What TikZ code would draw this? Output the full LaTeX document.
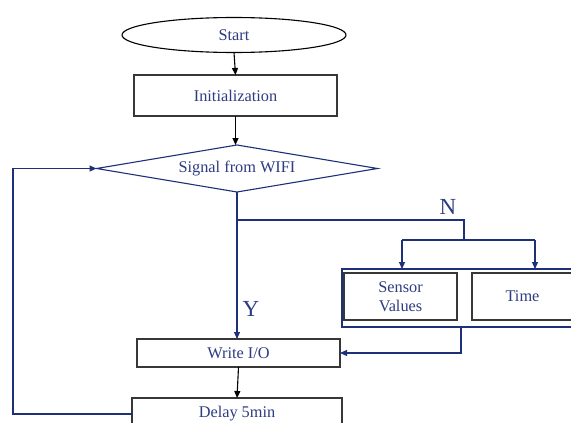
\documentclass[tikz,border=0pt]{standalone}
\usepackage{fontspec}
\setmainfont{Liberation Serif}
\usetikzlibrary{shapes.geometric,arrows.meta}
\definecolor{txtblue}{RGB}{46,60,128}
\definecolor{lnblue}{RGB}{30,48,120}
\definecolor{boxgray}{RGB}{55,55,55}
\tikzset{
  every node/.style={inner sep=0pt, outer sep=0pt, text=txtblue,
    font=\fontsize{16.3}{18.5}\selectfont},
  blackbox/.style={draw=boxgray, line width=1.1pt, rectangle},
  bluebox/.style={draw=lnblue, line width=1.1pt, rectangle},
  bluelink/.style={draw=lnblue, line width=1.1pt},
  blackarrow/.style={draw=black, line width=1.1pt, -{Triangle[length=7pt,width=6pt]}},
  bluearrow/.style={bluelink, -{Triangle[length=7pt,width=6pt]}},
  branchlabel/.style={font=\fontsize{23}{26}\selectfont},
}
\begin{document}
\begin{tikzpicture}[x=1pt, y=-1pt]
\useasboundingbox (0,0) rectangle (571,423);
\clip (0,0) rectangle (571,423);
\fill[white] (0,0) rectangle (571,423);

% main column
\node[ellipse, draw=black, line width=1.1pt, minimum width=224pt, minimum height=35pt] (start) at (234,35) {Start};
\node[blackbox, minimum width=203pt, minimum height=41pt] (init) at (235.5,95.5) {Initialization};
\node[diamond, aspect=6, draw=lnblue, line width=1.1pt, minimum width=281pt, minimum height=47pt] (dec) at (237,168.5) {Signal from WIFI};
\node[blackbox, minimum width=203pt, minimum height=28pt] (write) at (238.5,353) {Write I/O};
\node[blackbox, minimum width=210pt, minimum height=32pt] (delay) at (237,414) {Delay 5min};

% data sources on the N branch
\node[bluebox, minimum width=234pt, minimum height=58pt] (group) at (459,298) {};
\node[blackbox, minimum width=113pt, minimum height=47pt, align=center] (sensor) at (400.5,296.5) {Sensor\\Values};
\node[blackbox, minimum width=101pt, minimum height=47pt] (time) at (522.5,296.5) {Time};

% branch labels
\node[branchlabel] (nlab) at (448,207) {N};
\node[branchlabel] (ylab) at (251,309) {Y};

% connector helpers
\coordinate (split) at (237,220);
\coordinate (nturn) at (464,220);
\coordinate (nfork) at (464,240);
\coordinate (fl) at (402,240);
\coordinate (fr) at (535,240);
\coordinate (gout) at (461,327);
\coordinate (gturn) at (461,353);
\coordinate (loopb) at (13,414);
\coordinate (loopt) at (13,168.5);

% connectors
\draw[blackarrow] (start.south) -- (init.north);
\draw[blackarrow] (init.south) -- (init.south |- dec.north);
\draw[bluearrow] (dec.south) -- (write.north -| dec.south);
\draw[bluelink] (split) -- (nturn) -- (nfork);
\draw[bluelink] (fl) -- (fr);
\draw[bluearrow] (fl) -- (fl |- group.north);
\draw[bluearrow] (fr) -- (fr |- group.north);
\draw[bluearrow] (gout) -- (gturn) -- (write.east);
\draw[blackarrow] (write.south) -- (delay.north);
\draw[bluearrow] (delay.west) -- (loopb) -- (loopt) -- (dec.west);
\end{tikzpicture}
\end{document}
